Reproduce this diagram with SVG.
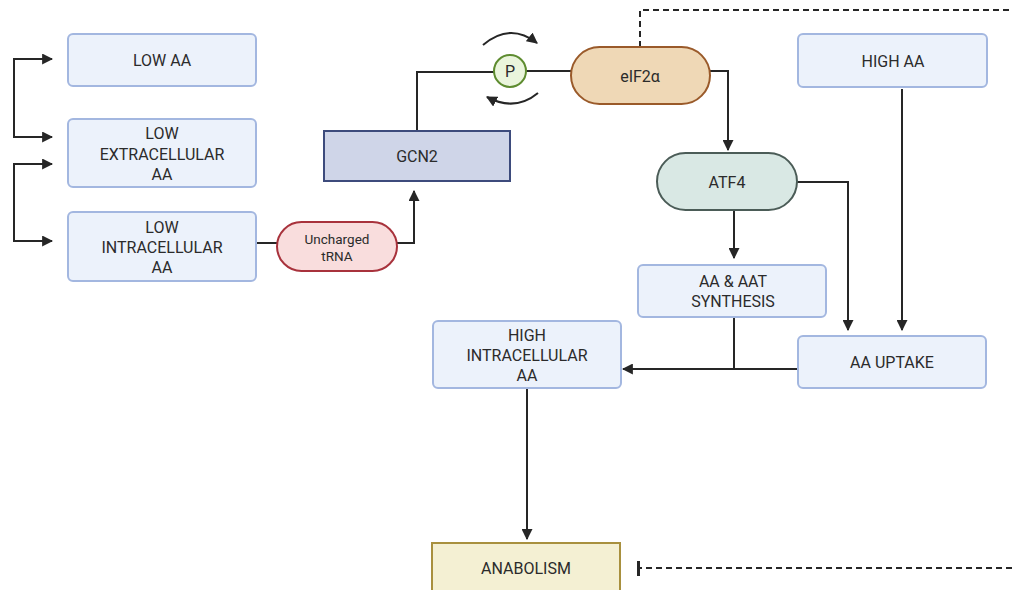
<svg xmlns="http://www.w3.org/2000/svg" width="1012" height="590" viewBox="0 0 1012 590">
<defs>
<style>
.box{fill:#ecf2fb;stroke:#a3b7e0;stroke-width:2}
.t{font-family:Roboto,"Liberation Sans",sans-serif;font-size:16px;fill:#2b2b2b;text-anchor:middle;dominant-baseline:central}
.ts{font-family:Roboto,"Liberation Sans",sans-serif;font-size:13.5px;fill:#2b2b2b;text-anchor:middle;dominant-baseline:central}
.ln{fill:none;stroke:#262626;stroke-width:2}
.dash{fill:none;stroke:#262626;stroke-width:2;stroke-dasharray:6,4}
</style>
<marker id="ah" viewBox="0 0 10 10" refX="9" refY="5" markerWidth="11" markerHeight="11" markerUnits="userSpaceOnUse" orient="auto-start-reverse">
<path d="M0,0 L10,5 L0,10 z" fill="#262626"/>
</marker>
</defs>
<rect width="1012" height="590" fill="#fff"/>
<g id="connectors">
<path class="ln" d="M52,59 H14 V137 H52" marker-start="url(#ah)" marker-end="url(#ah)"/>
<path class="ln" d="M52,164 H14 V241 H52" marker-start="url(#ah)" marker-end="url(#ah)"/>
<path class="ln" d="M256,243 H277"/>
<path class="ln" d="M397,243 H414 V191" marker-end="url(#ah)"/>
<path class="ln" d="M417,131 V72 H494"/>
<path class="ln" d="M526,71 H571"/>
<path class="ln" d="M483,45 Q510,22 537,43" marker-end="url(#ah)"/>
<path class="ln" d="M538,93 Q515,112 487,97" marker-end="url(#ah)"/>
<path class="ln" d="M710,71 H728 V150" marker-end="url(#ah)"/>
<path class="ln" d="M734,210 V258" marker-end="url(#ah)"/>
<path class="ln" d="M797,182 H848 V330" marker-end="url(#ah)"/>
<path class="ln" d="M902,89 V330" marker-end="url(#ah)"/>
<path class="ln" d="M734,317 V369"/>
<path class="ln" d="M798,369 H623" marker-end="url(#ah)"/>
<path class="ln" d="M527,388 V539" marker-end="url(#ah)"/>
<path class="dash" d="M640,47 V10 H1012"/>
<path class="dash" d="M1012,568 H640"/>
<rect x="637" y="561" width="3" height="15" fill="#262626"/>
</g>
<g id="low-aa"><rect class="box" x="68" y="34" width="188" height="52" rx="5"/><text class="t" x="162" y="60">LOW AA</text></g>
<g id="low-extra"><rect class="box" x="68" y="119" width="188" height="68" rx="5"/><text class="t" x="162" y="133">LOW</text><text class="t" x="162" y="154">EXTRACELLULAR</text><text class="t" x="162" y="174">AA</text></g>
<g id="low-intra"><rect class="box" x="68" y="212" width="188" height="69" rx="5"/><text class="t" x="162" y="227">LOW</text><text class="t" x="162" y="247">INTRACELLULAR</text><text class="t" x="162" y="267">AA</text></g>
<g id="trna"><rect x="277" y="222" width="120" height="49" rx="24.5" fill="#f9dddd" stroke="#a8323c" stroke-width="2"/><text class="ts" x="337" y="239">Uncharged</text><text class="ts" x="337" y="256">tRNA</text></g>
<g id="gcn2"><rect x="324" y="131" width="186" height="50" fill="#cfd5e8" stroke="#3d4b7c" stroke-width="2"/><text class="t" x="417" y="156">GCN2</text></g>
<g id="p"><circle cx="510" cy="71" r="16" fill="#eaf5dc" stroke="#5e8c30" stroke-width="2"/><text class="t" x="510" y="71">P</text></g>
<g id="eif2a"><rect x="571" y="47" width="139" height="57" rx="28.5" fill="#efd8b6" stroke="#9a5a2a" stroke-width="2"/><text class="t" x="640" y="76">eIF2α</text></g>
<g id="atf4"><rect x="657" y="153" width="140" height="57" rx="28.5" fill="#d9e8e4" stroke="#4b5c57" stroke-width="2"/><text class="t" x="727" y="182">ATF4</text></g>
<g id="high-aa"><rect class="box" x="798" y="34" width="189" height="53" rx="5"/><text class="t" x="893" y="61">HIGH AA</text></g>
<g id="synth"><rect class="box" x="638" y="265" width="188" height="52" rx="5"/><text class="t" x="733" y="281">AA &amp; AAT</text><text class="t" x="733" y="301">SYNTHESIS</text></g>
<g id="high-intra"><rect class="box" x="433" y="321" width="188" height="67" rx="5"/><text class="t" x="527" y="335">HIGH</text><text class="t" x="527" y="355">INTRACELLULAR</text><text class="t" x="527" y="375">AA</text></g>
<g id="uptake"><rect class="box" x="798" y="336" width="188" height="52" rx="5"/><text class="t" x="892" y="362">AA UPTAKE</text></g>
<g id="anabolism"><rect x="432" y="543" width="188" height="60" fill="#f4f0d3" stroke="#a8903e" stroke-width="2"/><text class="t" x="526" y="568">ANABOLISM</text></g>
</svg>
